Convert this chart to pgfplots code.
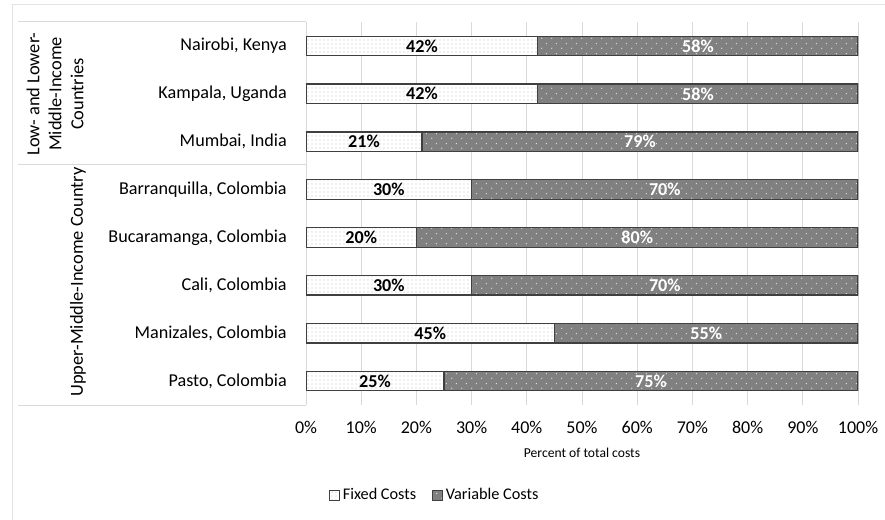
\documentclass[border=0pt]{standalone}
\usepackage{pgfplots}
\pgfplotsset{compat=1.18}
\usepackage{pgfplotstable}
\usetikzlibrary{patterns,patterns.meta}
\usepackage{fontspec}
\setmainfont{Carlito}
\definecolor{gridgray}{HTML}{D9D9D9}
\definecolor{varfill}{HTML}{808080}
\definecolor{bardraw}{HTML}{404040}
\tikzdeclarepattern{
  name=sparsedots,
  type=uncolored,
  bottom left={(0pt,0pt)},
  top right={(7.5pt,7.5pt)},
  tile size={(7.5pt,7.5pt)},
  code={
    \fill (1.5pt,1.5pt) circle (0.55pt);
    \fill (5.25pt,5.25pt) circle (0.55pt);
  }
}
\pgfplotstableread{
idx fixed variable
1 42 58
2 42 58
3 21 79
4 30 70
5 20 80
6 30 70
7 45 55
8 25 75
}\costdata
\begin{document}
\begin{tikzpicture}
\path[use as bounding box] (0pt,0pt) rectangle (663.75pt,-390pt);
% outer frame
\draw[gray!22, line width=0.75pt] (9pt,-392pt) -- (9pt,-3.75pt) -- (666pt,-3.75pt);
% category box lines
\draw[gridgray, line width=0.75pt] (13.5pt,-16.5pt) -- (229.5pt,-16.5pt);
\draw[gridgray, line width=0.75pt] (13.5pt,-123.75pt) -- (229.5pt,-123.75pt);
\draw[gridgray, line width=0.75pt] (13.5pt,-303.75pt) -- (229.5pt,-303.75pt);
\draw[gridgray, line width=0.75pt] (229.5pt,-16.5pt) -- (229.5pt,-303.75pt);
\node[rotate=90, align=center, font=\fontsize{13.8}{16.5}\selectfont, inner sep=0pt] at (41.25pt,-70.5pt) {Low- and Lower-\\Middle-Income\\Countries};
\node[rotate=90, font=\fontsize{13.8}{16.5}\selectfont, inner sep=0pt] at (58.5pt,-211.5pt) {Upper-Middle-Income Country};
\begin{axis}[
  at={(229.5pt,-303.75pt)}, anchor=south west,
  scale only axis, width=414pt, height=287.25pt,
  xbar stacked, bar width=14.6pt,
  xmin=0, xmax=100, ymin=0.5, ymax=8.5, y dir=reverse,
  xtick={0,10,...,100},
  xticklabel={\pgfmathprintnumber{\tick}\%},
  ytick={1,...,8},
  yticklabels={{Nairobi, Kenya},{Kampala, Uganda},{Mumbai, India},{Barranquilla, Colombia},{Bucaramanga, Colombia},{Cali, Colombia},{Manizales, Colombia},{Pasto, Colombia}},
  /pgf/number format/assume math mode=true,
  major tick length=0pt,
  axis line style={draw=none},
  xmajorgrids, grid style={gridgray, line width=0.75pt},
  xticklabel style={font=\fontsize{13.5}{16}\selectfont, inner sep=0pt, yshift=-12pt},
  yticklabel style={font=\fontsize{13.6}{16}\selectfont, inner sep=0pt, xshift=-14.25pt},
  xlabel={Percent of total costs},
  xlabel style={font=\fontsize{10.2}{12}\selectfont, at={(axis description cs:0.5,-0.125)}, anchor=center},
  legend style={at={(axis description cs:0.234,-0.235)}, anchor=center, draw=none, fill=none,
    legend columns=2, font=\fontsize{12.2}{15}\selectfont,
    /tikz/every odd column/.append style={column sep=0pt},
    /tikz/every even column/.append style={column sep=10pt}},
  legend cell align=left,
  legend image code/.code={\draw[#1, line width=0.6pt] (0pt,-3.8pt) rectangle (7.6pt,3.8pt);},
]
\addplot[fill=white, draw=bardraw, line width=0.9pt, postaction={pattern=dots, pattern color=gray!50}]
  table[x=fixed, y=idx] {\costdata};
\addlegendentry{Fixed Costs}
\addplot[fill=varfill, draw=bardraw, line width=0.9pt, postaction={pattern=sparsedots, pattern color=white!80!gray}]
  table[x=variable, y=idx] {\costdata};
\addlegendentry{Variable Costs}
\end{axis}
\begin{axis}[
  at={(229.5pt,-303.75pt)}, anchor=south west,
  scale only axis, width=414pt, height=287.25pt,
  xmin=0, xmax=100, ymin=0.5, ymax=8.5, y dir=reverse,
  hide axis,
  /pgf/number format/assume math mode=true,
]
\addplot[only marks, mark=none, point meta=explicit,
  nodes near coords={\pgfmathprintnumber[fixed,precision=0,assume math mode=true]{\pgfplotspointmeta}\%},
  every node near coord/.append style={anchor=center, font=\fontsize{13.6}{16}\selectfont\bfseries, text=black}]
  table[x expr=\thisrow{fixed}/2, y=idx, meta=fixed] {\costdata};
\addplot[only marks, mark=none, point meta=explicit,
  nodes near coords={\pgfmathprintnumber[fixed,precision=0,assume math mode=true]{\pgfplotspointmeta}\%},
  every node near coord/.append style={anchor=center, font=\fontsize{13.6}{16}\selectfont\bfseries, text=white}]
  table[x expr=\thisrow{fixed}+\thisrow{variable}/2, y=idx, meta=variable] {\costdata};
\end{axis}
\end{tikzpicture}
\end{document}
